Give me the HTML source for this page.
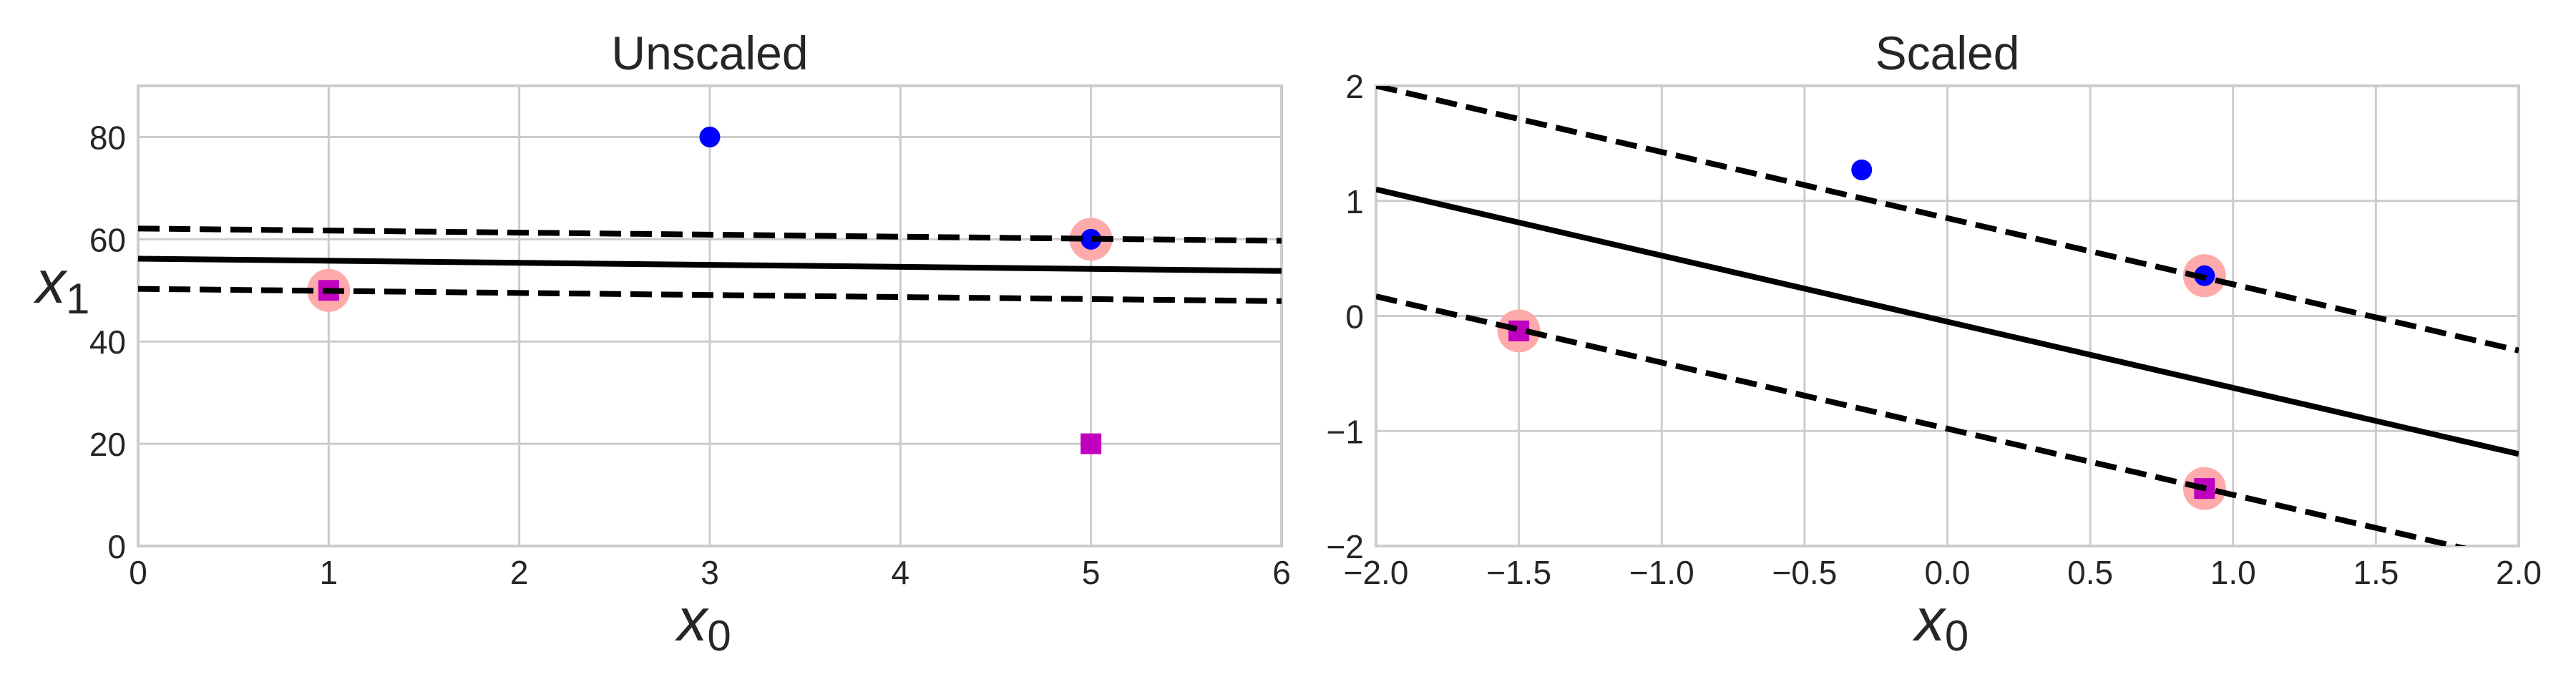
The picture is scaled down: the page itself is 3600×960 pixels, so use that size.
<!DOCTYPE html>
<html><head><meta charset="utf-8"><style>
html,body{margin:0;padding:0;background:#fff;}
svg{display:block;font-family:"Liberation Sans",sans-serif;}
</style></head><body>
<svg id="chart" width="3600" height="960" viewBox="0 0 3600 960" xmlns="http://www.w3.org/2000/svg"></svg>
<script>
// ---- Unscaled panel data ----
const uXTicks = [0,1,2,3,4,5,6];
const uYTicks = [0,20,40,60,80];
const uBlueX = [3,5];
const uBlueY = [80,60];
const uMagX = [1,5];
const uMagY = [50,20];
const uSvX = [1,5];
const uSvY = [50,60];
const uLineX = [0,6];
const uSolidY = [56.2,53.8];
const uUpperY = [62.1,59.7];
const uLowerY = [50.3,47.9];
// ---- Scaled panel data ----
const sXTicks = [-2.0,-1.5,-1.0,-0.5,0.0,0.5,1.0,1.5,2.0];
const sYTicks = [-2,-1,0,1,2];
const sBlueX = [-0.3,0.9];
const sBlueY = [1.27,0.35];
const sMagX = [-1.5,0.9];
const sMagY = [-0.13,-1.5];
const sSvX = [-1.5,0.9,0.9];
const sSvY = [-0.13,0.35,-1.5];
const sLineX = [-2,2];
const sSolidY = [1.1,-1.2];
const sUpperY = [2.0,-0.3];
const sLowerY = [0.17,-2.13];

const NS='http://www.w3.org/2000/svg';
const svg=document.getElementById('chart');
function mk(tag,attrs,parent){const e=document.createElementNS(NS,tag);for(const k in attrs)e.setAttribute(k,attrs[k]);(parent||svg).appendChild(e);return e;}
function fmt(v,dec){let s=v.toFixed(dec);return s.replace('-','\u2212');}

function panel(o){
  const L=o.left,R=o.right,T=120,B=763;
  const sx=v=>L+(v-o.xmin)/(o.xmax-o.xmin)*(R-L);
  const sy=v=>B-(v-o.ymin)/(o.ymax-o.ymin)*(B-T);
  const g=mk('g',{});
  
  
  const cid='clip-'+o.name;
  const cp=mk('clipPath',{id:cid},g);mk('rect',{x:L,y:T,width:R-L,height:B-T},cp);
  o.xt.forEach(v=>{const l=mk('line',{x1:sx(v),x2:sx(v),y1:T,y2:B,stroke:'#cccccc','stroke-width':3},g);
    
    const t=mk('text',{x:sx(v),y:816,'font-size':46,fill:'#262626','text-anchor':'middle'},g);t.textContent=fmt(v,o.xdec);
    });
  o.yt.forEach(v=>{const l=mk('line',{x1:L,x2:R,y1:sy(v),y2:sy(v),stroke:'#cccccc','stroke-width':3},g);
    
    const t=mk('text',{x:L-17,y:sy(v)+17,'font-size':46,fill:'#262626','text-anchor':'end'},g);t.textContent=fmt(v,0);
    });
  const fr=mk('rect',{x:L,y:T,width:R-L,height:B-T,fill:'none',stroke:'#cccccc','stroke-width':4},g);
  
  const pg=mk('g',{'clip-path':'url(#'+cid+')'},g);
  o.svx.forEach((v,i)=>{const c=mk('circle',{cx:sx(v),cy:sy(o.svy[i]),r:30,fill:'#FFAAAA'},pg);
    });
  o.bx.forEach((v,i)=>{const c=mk('circle',{cx:sx(v),cy:sy(o.by[i]),r:14.5,fill:'#0000ff'},pg);
    });
  o.mx.forEach((v,i)=>{const r=mk('rect',{x:sx(v)-14.5,y:sy(o.my[i])-14.5,width:29,height:29,fill:'#bf00bf'},pg);
    });
  const lines=[[o.solid,null,'decision-boundary'],[o.upper,'30 13','upper-margin'],[o.lower,'30 13','lower-margin']];
  lines.forEach(([ys,da,nm])=>{const a={x1:sx(o.lx[0]),y1:sy(ys[0]),x2:sx(o.lx[1]),y2:sy(ys[1]),stroke:'#000','stroke-width':8};
    if(da)a['stroke-dasharray']=da;const l=mk('line',a,pg);
    });
  const tt=mk('text',{x:(L+R)/2,y:97,'font-size':66,fill:'#262626','text-anchor':'middle'},g);tt.textContent=o.title;
  
  const xl=mk('text',{x:(L+R)/2-8,y:895,'font-size':84,fill:'#262626','text-anchor':'middle','font-style':'italic'},g);
  
  xl.textContent='x';const s0=mk('tspan',{dy:14,'font-size':60,'font-style':'normal'},xl);s0.textContent='0';
  if(o.ylabel){const yl=mk('text',{x:50,y:423,'font-size':84,fill:'#262626','font-style':'italic'},g);
    
    yl.textContent='x';const s1=mk('tspan',{dy:15,'font-size':60,'font-style':'normal'},yl);s1.textContent='1';}
}
panel({name:'unscaled',title:'Unscaled',left:193,right:1791,xmin:0,xmax:6,ymin:0,ymax:90,xt:uXTicks,yt:uYTicks,xdec:0,
  bx:uBlueX,by:uBlueY,mx:uMagX,my:uMagY,svx:uSvX,svy:uSvY,lx:uLineX,solid:uSolidY,upper:uUpperY,lower:uLowerY,ylabel:true});
panel({name:'scaled',title:'Scaled',left:1923,right:3520,xmin:-2,xmax:2,ymin:-2,ymax:2,xt:sXTicks,yt:sYTicks,xdec:1,
  bx:sBlueX,by:sBlueY,mx:sMagX,my:sMagY,svx:sSvX,svy:sSvY,lx:sLineX,solid:sSolidY,upper:sUpperY,lower:sLowerY,ylabel:false});
</script>
</body></html>
